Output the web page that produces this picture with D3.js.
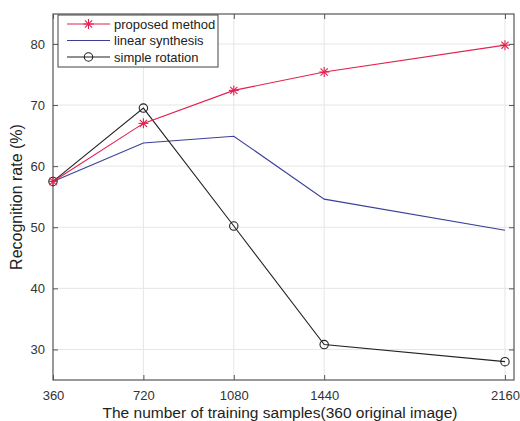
<!DOCTYPE html>
<html><head><meta charset="utf-8">
<script src="https://cdn.jsdelivr.net/npm/d3@7"></script>
<style>body{margin:0;background:#fff}svg{display:block}text{font-family:"Liberation Sans",Arial,sans-serif}</style>
</head><body><svg id="c" width="520" height="421"></svg>
<script>
const samples = [360, 720, 1080, 1440, 2160];
const proposed = [57.5, 67.0, 72.4, 75.4, 79.8];
const linear = [57.5, 63.8, 64.9, 54.6, 49.5];
const rotation = [57.5, 69.5, 50.2, 30.8, 28.0];
const yTicks = [30, 40, 50, 60, 70, 80];
const seriesNames = ["proposed method", "linear synthesis", "simple rotation"];

const svg = d3.select("#c");
const L = 53, R = 514, T = 14, B = 380;
const x = d3.scaleLinear().domain([360, 2196]).range([L, R]);
const y = d3.scaleLinear().domain([25, 84.9]).range([B, T]);

// grid
const g = svg.append("g");
g.selectAll(".gy").data(yTicks).enter().append("line")
  .attr("x1", L).attr("x2", R).attr("y1", d => y(d)).attr("y2", d => y(d))
  .attr("stroke", "#e6e6e6").attr("stroke-width", 1);
g.selectAll(".gx").data(samples.slice(1)).enter().append("line")
  .attr("y1", T).attr("y2", B).attr("x1", d => x(d)).attr("x2", d => x(d))
  .attr("stroke", "#e6e6e6").attr("stroke-width", 1);

// axes
const fmt = d3.format("d");
const axB = d3.axisBottom(x).tickValues(samples).tickSize(-5).tickPadding(11).tickFormat(fmt);
const axL = d3.axisLeft(y).tickValues(yTicks).tickSize(-5).tickPadding(8).tickFormat(fmt);
const axT = d3.axisTop(x).tickValues(samples).tickSize(-5).tickFormat("");
const axR = d3.axisRight(y).tickValues(yTicks).tickSize(-5).tickFormat("");
function style(sel){
  sel.select(".domain").remove();
  sel.selectAll("line").attr("stroke", "#555");
  sel.selectAll("text").attr("fill", "#333").attr("font-size", 13).attr("font-family", "Liberation Sans, Arial, sans-serif");
}
svg.append("g").attr("transform", `translate(0,${B})`).call(axB).call(style);
svg.append("g").attr("transform", `translate(${L},0)`).call(axL).call(style);
svg.append("g").attr("transform", `translate(0,${T})`).call(axT).call(style);
svg.append("g").attr("transform", `translate(${R},0)`).call(axR).call(style);
svg.append("rect").attr("x", L).attr("y", T).attr("width", R - L).attr("height", B - T)
  .attr("fill", "none").attr("stroke", "#555").attr("stroke-width", 1.2);

const line = d3.line().x((d, i) => x(samples[i])).y(d => y(d));
const cols = ["#e2204f", "#3a3f98", "#222"];

function star(sel, cx, cy, c) {
  const r = 5;
  const gg = sel.append("g").attr("stroke", c).attr("stroke-width", 1.1);
  [[r,0],[0,r],[r*0.72,r*0.72],[r*0.72,-r*0.72]].forEach(([dx,dy]) =>
    gg.append("line").attr("x1", cx-dx).attr("y1", cy-dy).attr("x2", cx+dx).attr("y2", cy+dy));
}
function circ(sel, cx, cy, c) {
  sel.append("circle").attr("cx", cx).attr("cy", cy).attr("r", 4.2)
    .attr("fill", "none").attr("stroke", c).attr("stroke-width", 1.1);
}

const plot = svg.append("g");
plot.append("path").attr("d", line(linear)).attr("fill", "none").attr("stroke", cols[1]).attr("stroke-width", 1.1);
plot.append("path").attr("d", line(rotation)).attr("fill", "none").attr("stroke", cols[2]).attr("stroke-width", 1.1);
rotation.forEach((v, i) => circ(plot, x(samples[i]), y(v), cols[2]));
plot.append("path").attr("d", line(proposed)).attr("fill", "none").attr("stroke", cols[0]).attr("stroke-width", 1.1);
proposed.forEach((v, i) => star(plot, x(samples[i]), y(v), cols[0]));

// labels
svg.append("text").attr("x", 280).attr("y", 418).attr("text-anchor", "middle")
  .attr("font-size", 15.5).attr("fill", "#222").text("The number of training samples(360 original image)");
svg.append("text").attr("transform", "translate(22,197) rotate(-90)").attr("text-anchor", "middle")
  .attr("font-size", 16).attr("fill", "#222").text("Recognition rate (%)");

// legend
const lg = svg.append("g");
lg.append("rect").attr("x", 58).attr("y", 15).attr("width", 160).attr("height", 52)
  .attr("fill", "#fff").attr("stroke", "#444").attr("stroke-width", 1);
seriesNames.forEach((n, i) => {
  const cy = 24 + i * 16.5;
  lg.append("line").attr("x1", 67).attr("x2", 110).attr("y1", cy).attr("y2", cy).attr("stroke", cols[i]).attr("stroke-width", 1.1);
  if (i === 0) star(lg, 88.5, cy, cols[0]);
  if (i === 2) circ(lg, 88.5, cy, cols[2]);
  lg.append("text").attr("x", 114).attr("y", cy + 4.5).attr("font-size", 13).attr("fill", "#222").text(n);
});
</script></body></html>
